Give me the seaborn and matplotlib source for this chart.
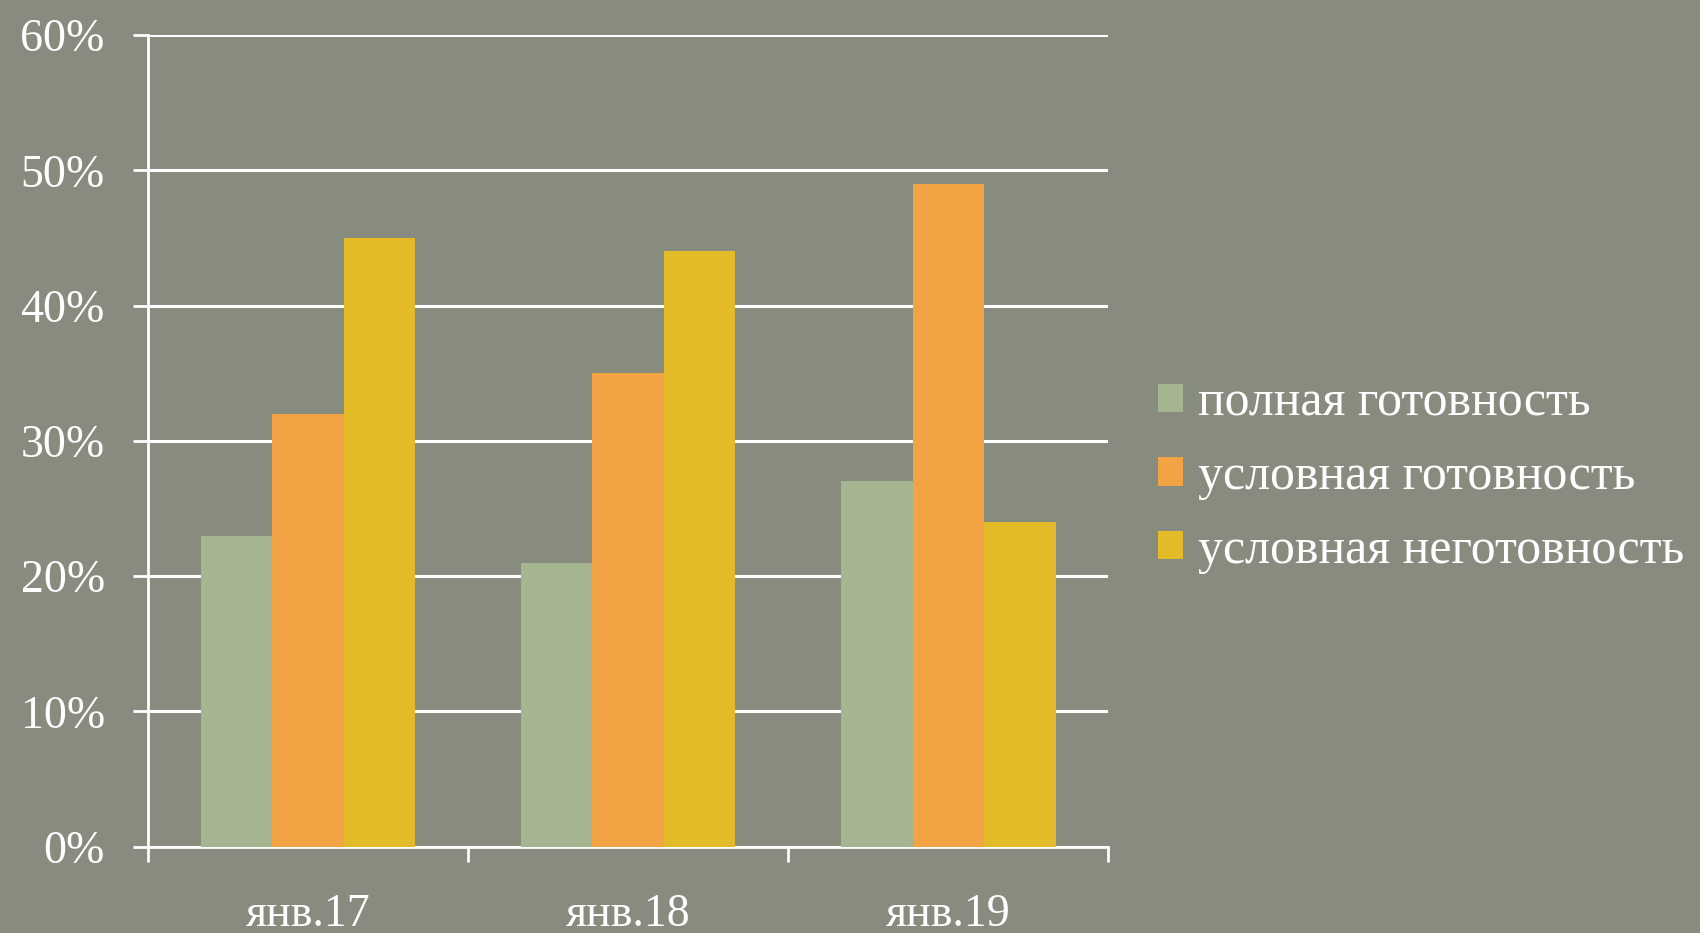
import pandas as pd
import matplotlib
matplotlib.use("Agg")
import matplotlib.pyplot as plt
import seaborn as sns
from matplotlib.ticker import FixedLocator, FuncFormatter

# --- данные ---
periods = ["янв.17", "янв.18", "янв.19"]
series = ["полная готовность", "условная готовность", "условная неготовность"]
full_ready = [23, 21, 27]
cond_ready = [32, 35, 49]
cond_not_ready = [45, 44, 24]
colors = ["#a6b591", "#f2a445", "#e3bb28"]

df = pd.DataFrame({
    "period": periods * 3,
    "series": [series[0]] * 3 + [series[1]] * 3 + [series[2]] * 3,
    "value": full_ready + cond_ready + cond_not_ready,
})

bg = "#878c7f"
sns.set_theme(style="white")
plt.rcParams["font.family"] = ["Liberation Serif", "DejaVu Serif"]

fig = plt.figure(figsize=(17, 9.33), dpi=100, facecolor=bg)
ax = fig.add_axes([0.087, 0.0925, 0.565, 0.87])
ax.set_facecolor(bg)

sns.barplot(data=df, x="period", y="value", hue="series", palette=colors,
            width=0.67, linewidth=0, saturation=1, ax=ax, zorder=3)

ax.set_ylim(0, 60)
ax.set_xlim(-0.5, 2.5)
ax.set_yticks(range(0, 61, 10))
ax.yaxis.set_major_formatter(FuncFormatter(lambda v, p: f"{int(v)}%"))
ax.grid(axis="y", color="white", linewidth=2.2, zorder=1)
ax.set_axisbelow(True)

# деления на границах категорий, подписи по центру
ax.xaxis.set_major_locator(FixedLocator([-0.5, 0.5, 1.5, 2.5]))
ax.xaxis.set_minor_locator(FixedLocator([0, 1, 2]))
ax.set_xticklabels([], minor=False)
ax.set_xticklabels(periods, minor=True)
ax.tick_params(axis="x", which="major", length=11, width=2, color="white", direction="out")
ax.tick_params(axis="x", which="minor", length=0, pad=34, labelsize=33, labelcolor="white")
ax.tick_params(axis="y", length=11, width=2, color="white", direction="out",
               pad=20, labelsize=33, labelcolor="white")
ax.tick_params(bottom=True, left=True, which="both")

for s in ["top", "right"]:
    ax.spines[s].set_visible(False)
for s in ["left", "bottom"]:
    ax.spines[s].set_color("white")
    ax.spines[s].set_linewidth(2)

ax.set_xlabel("")
ax.set_ylabel("")

handles, labels = ax.get_legend_handles_labels()
ax.legend(handles, labels, loc="center left", bbox_to_anchor=(0.681, 0.489),
          bbox_transform=fig.transFigure, frameon=False, fontsize=36,
          labelcolor="white", handlelength=0.5, handleheight=0.5,
          handletextpad=0.3, labelspacing=0.54, borderpad=0, borderaxespad=0)

fig.savefig("out.png", dpi=100, facecolor=bg)
